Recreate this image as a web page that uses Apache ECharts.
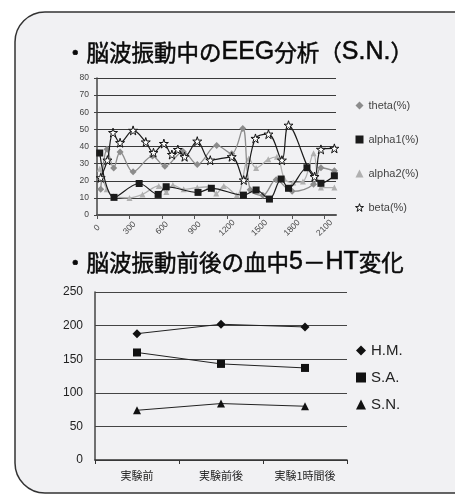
<!DOCTYPE html>
<html>
<head>
<meta charset="utf-8">
<script src="https://cdn.jsdelivr.net/npm/echarts@6/dist/echarts.min.js"></script>
<style>
html,body{margin:0;padding:0;background:#fff;}
#chart{width:455px;height:495px;}
</style>
</head>
<body>
<div id="chart"></div>
<script>
// ---- Top chart data (time in s, value in %) ----
const eegTicks = [0, 300, 600, 900, 1200, 1500, 1800, 2100];

const thetaT = [34, 93, 154, 213, 333, 512, 626, 796, 925, 1104, 1243, 1345, 1413, 1530, 1653, 1800, 1998, 2066, 2190];
const thetaV = [15, 38.4, 27.5, 36.8, 25.2, 34.4, 28.5, 37, 29.5, 40.6, 35.8, 50.5, 14.8, 11.5, 20.6, 13.8, 18, 27.6, 25.8];

const alpha1T = [25, 157, 389, 564, 638, 932, 1055, 1351, 1468, 1591, 1699, 1767, 1937, 2066, 2190];
const alpha1V = [36.2, 10.3, 18.4, 12.0, 16.5, 13.2, 15.6, 11.6, 14.6, 9.3, 21.0, 15.6, 27.6, 18.5, 22.9];

const alpha2T = [26, 90, 150, 300, 420, 570, 640, 700, 800, 925, 1030, 1100, 1170, 1290, 1400, 1468, 1580, 1660, 1730, 1810, 1900, 1998, 2066, 2190];
const alpha2V = [27, 15, 11, 10, 12, 17, 13.5, 17.5, 15, 16, 16.5, 12.5, 17, 11.5, 33, 27.5, 32.5, 34, 21, 19, 19.5, 36, 16, 16];

const betaT = [34, 96, 148, 213, 333, 450, 521, 617, 691, 746, 808, 925, 1045, 1243, 1354, 1462, 1582, 1706, 1767, 2007, 2066, 2190];
const betaV = [21.7, 32, 48.1, 42.2, 49.4, 42.6, 36.4, 41.7, 35.3, 38.2, 34, 43.1, 32, 34, 20.4, 44.7, 47.2, 32, 52.4, 22.4, 38.3, 38.9];

// ---- Bottom chart data ----
const phases = ['実験前', '実験前後', '実験1時間後'];
const hmValues = [188, 202, 198];
const saValues = [160, 143, 137];
const snValues = [74, 84, 80];

// Titles (CJK parts and Latin parts in separate rich-text styles)
const title1 = '{c|・脳波振動中の}{l|EEG}{c|分析（}{l|S.N.}{c|）}';
const title2 = '{c|・脳波振動前後の血中}{l|5}{c|－}{l|HT}{c|変化}';

function pairs(t, v) { return t.map((x, i) => [x, v[i]]); }

const star = 'path://M50,2 L61,37 L98,37 L68,58 L79,94 L50,72 L21,94 L32,58 L2,37 L39,37 Z';
const latin = "'Liberation Sans', Arial, sans-serif";
const cjk = "'Noto Sans CJK JP', sans-serif";

const titleRich = {
  c: {fontFamily: cjk, fontSize: 22.5, fontWeight: 'normal', color: '#0a0a0a', lineHeight: 28,
      verticalAlign: 'middle', textBorderColor: '#0a0a0a', textBorderWidth: 0.5},
  l: {fontFamily: latin, fontSize: 25, fontWeight: 'normal', color: '#0a0a0a', lineHeight: 28,
      verticalAlign: 'middle', textBorderColor: '#0a0a0a', textBorderWidth: 0.5}
};

const chart = echarts.init(document.getElementById('chart'), null, {renderer: 'canvas'});

chart.setOption({
  backgroundColor: '#ffffff',
  animation: false,
  graphic: [{
    type: 'rect', z: -10, silent: true,
    shape: {x: 15, y: 12, width: 470, height: 481, r: [30, 0, 0, 30]},
    style: {fill: '#f1f1f3', stroke: '#333', lineWidth: 1.5}
  }],
  title: [
    {text: title1, left: 64, top: 38, padding: 0, textStyle: {fontWeight: 'normal', rich: titleRich}},
    {text: title2, left: 64, top: 248, padding: 0, textStyle: {fontWeight: 'normal', rich: titleRich}}
  ],
  legend: [
    {
      orient: 'vertical', left: 355, top: 100, padding: 0,
      itemWidth: 8, itemHeight: 8, itemGap: 23,
      textStyle: {fontFamily: latin, fontSize: 11, color: '#444'},
      data: [
        {name: 'theta(%)', icon: 'diamond', itemStyle: {color: '#8c8c8c'}},
        {name: 'alpha1(%)', icon: 'rect', itemStyle: {color: '#1a1a1a'}},
        {name: 'alpha2(%)', icon: 'triangle', itemStyle: {color: '#b0b0b0'}},
        {name: 'beta(%)', icon: star, itemStyle: {color: '#ffffff', borderColor: '#111', borderWidth: 1}}
      ]
    },
    {
      orient: 'vertical', left: 356, top: 343, padding: 0,
      itemWidth: 10, itemHeight: 10, itemGap: 12,
      textStyle: {fontFamily: latin, fontSize: 15, color: '#222'},
      data: [
        {name: 'H.M.', icon: 'diamond', itemStyle: {color: '#111'}},
        {name: 'S.A.', icon: 'rect', itemStyle: {color: '#111'}},
        {name: 'S.N.', icon: 'triangle', itemStyle: {color: '#111'}}
      ]
    }
  ],
  grid: [
    {left: 97, top: 78, width: 239, height: 137, containLabel: false},
    {left: 95, top: 292, width: 252, height: 168, containLabel: false}
  ],
  xAxis: [
    {
      gridIndex: 0, type: 'value', min: 0, max: 2205, interval: 300,
      axisLine: {show: true, lineStyle: {color: '#555', width: 2}},
      axisTick: {show: true, length: 4, lineStyle: {color: '#555'}, customValues: eegTicks},
      axisLabel: {customValues: eegTicks, rotate: 45, align: 'center', verticalAlign: 'middle', margin: 13,
                  formatter: v => String(v),
                  fontFamily: latin, fontSize: 8.5, color: '#444'},
      splitLine: {show: false}
    },
    {
      gridIndex: 1, type: 'category', data: phases, boundaryGap: true,
      axisLine: {show: true, lineStyle: {color: '#333', width: 1.5}},
      axisTick: {show: true, length: 4, lineStyle: {color: '#333'}},
      axisLabel: {fontFamily: cjk, fontSize: 11, color: '#222', margin: 10},
      splitLine: {show: false}
    }
  ],
  yAxis: [
    {
      gridIndex: 0, type: 'value', min: 0, max: 80, interval: 10,
      axisLine: {show: true, lineStyle: {color: '#444', width: 1.5}},
      axisTick: {show: true, length: 3, lineStyle: {color: '#444'}},
      axisLabel: {fontFamily: latin, fontSize: 8.5, color: '#444', margin: 8},
      splitLine: {show: true, lineStyle: {color: '#3a3a3a', width: 1}}
    },
    {
      gridIndex: 1, type: 'value', min: 0, max: 250, interval: 50,
      axisLine: {show: true, lineStyle: {color: '#444', width: 1.5}},
      axisTick: {show: false},
      axisLabel: {fontFamily: latin, fontSize: 12, color: '#222', margin: 12},
      splitLine: {show: true, lineStyle: {color: '#444', width: 1}}
    }
  ],
  series: [
    {name: 'theta(%)', type: 'line', xAxisIndex: 0, yAxisIndex: 0, data: pairs(thetaT, thetaV),
     smooth: 0.35, symbol: 'diamond', symbolSize: 7,
     itemStyle: {color: '#8c8c8c'}, lineStyle: {color: '#8c8c8c', width: 1.3}, z: 3},
    {name: 'alpha2(%)', type: 'line', xAxisIndex: 0, yAxisIndex: 0, data: pairs(alpha2T, alpha2V),
     smooth: 0.35, symbol: 'triangle', symbolSize: 6,
     itemStyle: {color: '#b0b0b0'}, lineStyle: {color: '#b0b0b0', width: 1.3}, z: 2},
    {name: 'alpha1(%)', type: 'line', xAxisIndex: 0, yAxisIndex: 0, data: pairs(alpha1T, alpha1V),
     smooth: 0.35, symbol: 'rect', symbolSize: 7,
     itemStyle: {color: '#1a1a1a'}, lineStyle: {color: '#1a1a1a', width: 1.2}, z: 4},
    {name: 'beta(%)', type: 'line', xAxisIndex: 0, yAxisIndex: 0, data: pairs(betaT, betaV),
     smooth: 0.35, symbol: star, symbolSize: 9,
     itemStyle: {color: '#ffffff', borderColor: '#111', borderWidth: 1}, lineStyle: {color: '#1a1a1a', width: 1.2}, z: 5},
    {name: 'H.M.', type: 'line', xAxisIndex: 1, yAxisIndex: 1, data: hmValues,
     symbol: 'diamond', symbolSize: 9, itemStyle: {color: '#111'}, lineStyle: {color: '#222', width: 1}},
    {name: 'S.A.', type: 'line', xAxisIndex: 1, yAxisIndex: 1, data: saValues,
     symbol: 'rect', symbolSize: 8, itemStyle: {color: '#111'}, lineStyle: {color: '#222', width: 1}},
    {name: 'S.N.', type: 'line', xAxisIndex: 1, yAxisIndex: 1, data: snValues,
     symbol: 'triangle', symbolSize: 8, itemStyle: {color: '#111'}, lineStyle: {color: '#222', width: 1}}
  ]
});
</script>
</body>
</html>
